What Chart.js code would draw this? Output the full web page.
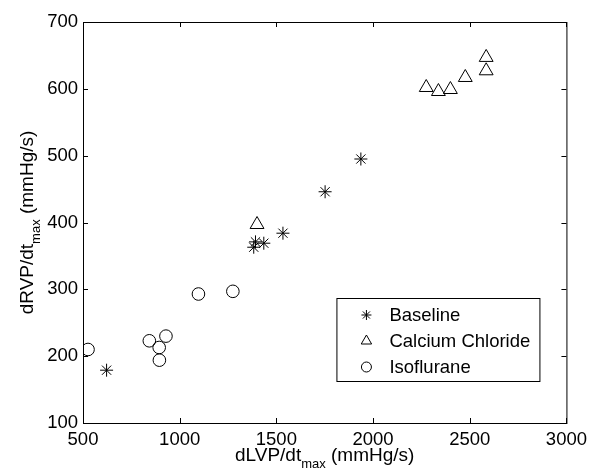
<!DOCTYPE html>
<html>
<head>
<meta charset="utf-8">
<script src="https://cdn.jsdelivr.net/npm/chart.js@4/dist/chart.umd.min.js"></script>
<style>
  html, body { margin: 0; padding: 0; background: #fff; }
  #wrap { width: 593px; height: 472px; position: relative; }
</style>
</head>
<body>
<div id="wrap"><canvas id="chart"></canvas></div>
<script>
// values
const seriesNames = ['Baseline', 'Calcium Chloride', 'Isoflurane'];

const baselineX = [622, 1383, 1392, 1435, 1534, 1752, 1937];
const baselineY = [179, 363, 371, 369, 384, 446, 495];

const calciumX = [1400, 2275, 2338, 2400, 2477, 2585, 2585];
const calciumY = [397, 602, 596, 599, 617, 647, 627];

const isoX = [526, 843, 894, 929, 895, 1097, 1275];
const isoY = [210, 223, 213, 230, 194, 293, 297];

const xTicks = [500, 1000, 1500, 2000, 2500, 3000];
const yTicks = [100, 200, 300, 400, 500, 600, 700];

const FONT = '"Liberation Sans", Arial, Helvetica, sans-serif';

function toPoints(xs, ys) {
    return xs.map((x, i) => ({ x: x, y: ys[i] }));
}

function drawTitle(ctx, main, sub, rest, cx, cy, rotate) {
    ctx.save();
    ctx.translate(cx, cy);
    if (rotate) ctx.rotate(-Math.PI / 2);
    ctx.fillStyle = '#000';
    ctx.textBaseline = 'alphabetic';
    ctx.textAlign = 'left';
    const big = '19px ' + FONT, small = '13px ' + FONT;
    ctx.font = big;
    const w1 = ctx.measureText(main).width;
    const w3 = ctx.measureText(rest).width;
    ctx.font = small;
    const w2 = ctx.measureText(sub).width;
    let x = -(w1 + w2 + w3) / 2;
    ctx.font = big;
    ctx.fillText(main, x, 0);
    x += w1;
    ctx.font = small;
    ctx.fillText(sub, x, 7);
    x += w2;
    ctx.font = big;
    ctx.fillText(rest, x, 0);
    ctx.restore();
}

const framePlugin = {
    id: 'frame',
    afterDatasetsDraw(chart) {
        const { ctx, chartArea: a, scales } = chart;
        ctx.save();
        ctx.strokeStyle = '#000';
        ctx.lineWidth = 1;
        ctx.strokeRect(a.left + 0.5, a.top + 0.5, a.right - a.left, a.bottom - a.top);

        // inward ticks on all four sides
        const tl = 5;
        ctx.beginPath();
        xTicks.forEach(v => {
            const px = Math.round(scales.x.getPixelForValue(v)) + 0.5;
            ctx.moveTo(px, a.bottom); ctx.lineTo(px, a.bottom - tl);
            ctx.moveTo(px, a.top); ctx.lineTo(px, a.top + tl);
        });
        yTicks.forEach(v => {
            const py = Math.round(scales.y.getPixelForValue(v)) + 0.5;
            ctx.moveTo(a.left, py); ctx.lineTo(a.left + tl, py);
            ctx.moveTo(a.right, py); ctx.lineTo(a.right - tl, py);
        });
        ctx.stroke();
        ctx.restore();

        // axis titles
        const midX = (a.left + a.right) / 2;
        const midY = (a.top + a.bottom) / 2;
        drawTitle(ctx, 'dLVP/dt', 'max', ' (mmHg/s)', midX, a.bottom + 38, false);
        drawTitle(ctx, 'dRVP/dt', 'max', ' (mmHg/s)', a.left - 50, midY, true);

        // boxed legend inside the plot
        const lx = a.right - 230, ly = a.bottom - 125, lw = 203, lh = 83;
        ctx.save();
        ctx.fillStyle = '#fff';
        ctx.fillRect(lx, ly, lw, lh);
        ctx.strokeStyle = '#000';
        ctx.lineWidth = 1;
        ctx.strokeRect(lx + 0.5, ly + 0.5, lw, lh);
        ctx.font = '18.5px ' + FONT;
        ctx.textBaseline = 'middle';
        ctx.textAlign = 'left';
        chart.data.datasets.forEach((ds, i) => {
            const ry = ly + 17 + i * 26;
            ctx.fillStyle = '#fff';
            ctx.strokeStyle = '#000';
            ctx.lineWidth = 1;
            Chart.helpers.drawPoint(ctx, {
                pointStyle: ds.pointStyle,
                radius: ds.pointStyle === 'triangle' ? 6 : 5,
                borderWidth: 1,
                rotation: 0
            }, lx + 30, ry);
            ctx.fillStyle = '#000';
            ctx.fillText(ds.label, lx + 53, ry + 1);
        });
        ctx.restore();
    }
};

const pointBase = {
    showLine: false,
    borderColor: '#000',
    backgroundColor: 'rgba(0,0,0,0)',
    borderWidth: 1
};

const tickFont = { family: FONT, size: 18.5 };

new Chart(document.getElementById('chart').getContext('2d'), {
    type: 'scatter',
    data: {
        datasets: [
            Object.assign({}, pointBase, {
                label: seriesNames[0],
                data: toPoints(baselineX, baselineY),
                pointStyle: 'star',
                pointRadius: 6.5
            }),
            Object.assign({}, pointBase, {
                label: seriesNames[1],
                data: toPoints(calciumX, calciumY),
                pointStyle: 'triangle',
                pointRadius: 8
            }),
            Object.assign({}, pointBase, {
                label: seriesNames[2],
                data: toPoints(isoX, isoY),
                pointStyle: 'circle',
                pointRadius: 6.3
            })
        ]
    },
    options: {
        responsive: true,
        maintainAspectRatio: false,
        animation: false,
        layout: { padding: { left: 0, right: 24, top: 22, bottom: 0 } },
        plugins: {
            legend: { display: false },
            tooltip: { enabled: false }
        },
        scales: {
            x: {
                type: 'linear',
                min: 500,
                max: 3000,
                afterBuildTicks: s => { s.ticks = xTicks.map(v => ({ value: v })); },
                afterFit: s => { s.height = 49; },
                grid: { display: false, drawTicks: false },
                border: { display: false },
                ticks: { color: '#000', font: tickFont, padding: 6, maxRotation: 0, callback: v => String(v) }
            },
            y: {
                type: 'linear',
                min: 100,
                max: 700,
                afterBuildTicks: s => { s.ticks = yTicks.map(v => ({ value: v })); },
                afterFit: s => { s.width = 83; },
                grid: { display: false, drawTicks: false },
                border: { display: false },
                ticks: { color: '#000', font: tickFont, padding: 5, callback: v => String(v) }
            }
        }
    },
    plugins: [framePlugin]
});
</script>
</body>
</html>
